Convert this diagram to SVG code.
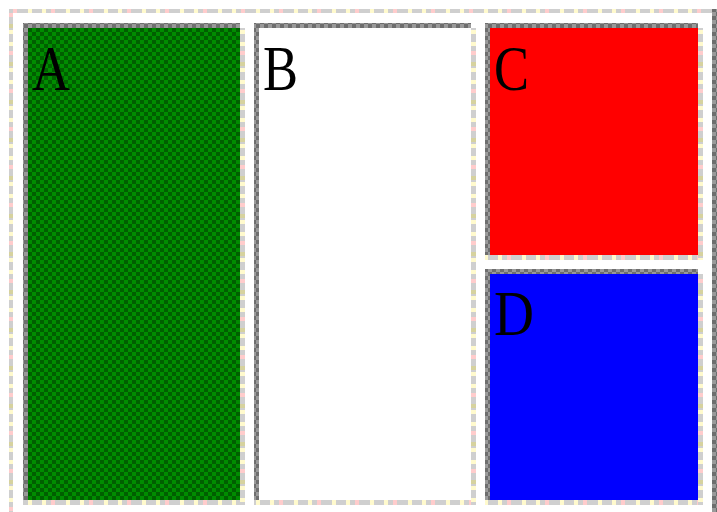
<svg xmlns="http://www.w3.org/2000/svg" width="717" height="512" viewBox="0 0 717 512">
  <defs>
    <pattern id="dk" width="8" height="8" patternUnits="userSpaceOnUse">
      <rect width="8" height="8" fill="#9a9a9a"/>
      <rect width="4" height="4" fill="#6e6e6e"/>
      <rect x="4" y="4" width="4" height="4" fill="#6e6e6e"/>
    </pattern>
    <pattern id="lth" width="38" height="5" patternUnits="userSpaceOnUse">
      <rect width="38" height="5" fill="#cfcfcf"/>
      <rect x="4" width="4" height="5" fill="#fffacd"/>
      <rect x="13" width="4" height="5" fill="#ffcccc"/>
      <rect x="28" width="4" height="5" fill="#fffacd"/>
    </pattern>
    <pattern id="ltv" width="5" height="38" patternUnits="userSpaceOnUse">
      <rect width="5" height="38" fill="#cfcfcf"/>
      <rect y="4" width="5" height="4" fill="#fffacd"/>
      <rect y="13" width="5" height="4" fill="#ffcccc"/>
      <rect y="24" width="5" height="4" fill="#d6d29e"/>
      <rect y="30" width="5" height="4" fill="#fffacd"/>
    </pattern>
    <pattern id="grn" width="8" height="8" patternUnits="userSpaceOnUse">
      <rect width="8" height="8" fill="#008c00"/>
      <rect width="4" height="4" fill="#005f00"/>
      <rect x="4" y="4" width="4" height="4" fill="#005f00"/>
    </pattern>
  </defs>
  <style>
    .dk{fill:url(#dk)}
    .lh{fill:url(#lth)}
    .lv{fill:url(#ltv)}
    .lbl{font-family:"Liberation Serif","Times New Roman",serif;font-size:64px;fill:#000}
  </style>
  <rect width="717" height="512" fill="#ffffff"/>
  <g id="frame">
    <rect x="9" y="9" width="703" height="4" class="lh"/>
    <rect x="9" y="13" width="4" height="499" class="lv"/>
    <rect x="712" y="9" width="5" height="503" class="dk"/>
  </g>
  <g id="A">
    <rect x="28" y="28" width="212" height="472" fill="url(#grn)"/>
    <rect x="23" y="23" width="217" height="5" class="dk"/>
    <rect x="23" y="28" width="5" height="472" class="dk"/>
    <rect x="240" y="28" width="5" height="477" class="lv"/>
    <rect x="23" y="500" width="217" height="5" class="lh"/>
    <text x="32" y="90" class="lbl" textLength="38" lengthAdjust="spacingAndGlyphs">A</text>
  </g>
  <g id="B">
    <rect x="259" y="28" width="212" height="472" fill="#ffffff"/>
    <rect x="254" y="23" width="217" height="5" class="dk"/>
    <rect x="254" y="28" width="5" height="472" class="dk"/>
    <rect x="471" y="28" width="5" height="477" class="lv"/>
    <rect x="254" y="500" width="217" height="5" class="lh"/>
    <text x="263" y="90" class="lbl" textLength="35" lengthAdjust="spacingAndGlyphs">B</text>
  </g>
  <g id="C">
    <rect x="490" y="28" width="208" height="227" fill="#ff0000"/>
    <rect x="485" y="23" width="213" height="5" class="dk"/>
    <rect x="485" y="28" width="5" height="227" class="dk"/>
    <rect x="698" y="28" width="5" height="232" class="lv"/>
    <rect x="485" y="255" width="213" height="5" class="lh"/>
    <text x="494" y="90" class="lbl" textLength="35" lengthAdjust="spacingAndGlyphs">C</text>
  </g>
  <g id="D">
    <rect x="490" y="274" width="208" height="226" fill="#0000ff"/>
    <rect x="485" y="269" width="213" height="5" class="dk"/>
    <rect x="485" y="274" width="5" height="226" class="dk"/>
    <rect x="698" y="274" width="5" height="231" class="lv"/>
    <rect x="485" y="500" width="213" height="5" class="lh"/>
    <text x="494" y="335" class="lbl" textLength="40" lengthAdjust="spacingAndGlyphs">D</text>
  </g>
  <g id="connectors"/>
</svg>
